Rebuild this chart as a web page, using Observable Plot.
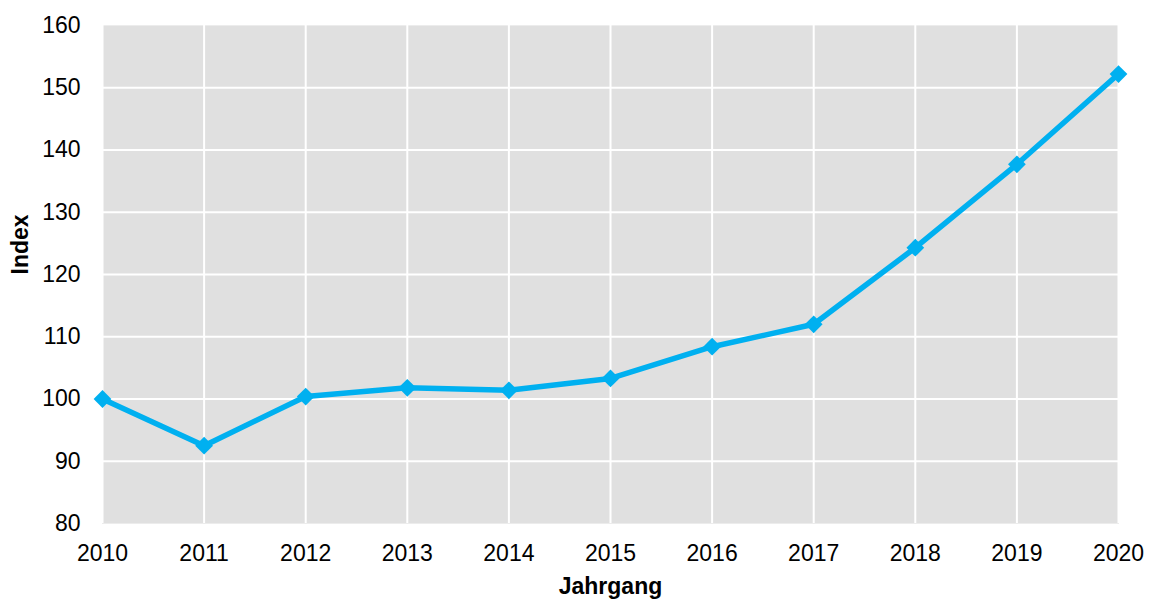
<!DOCTYPE html>
<html>
<head>
<meta charset="utf-8">
<script src="https://cdn.jsdelivr.net/npm/d3@7"></script>
<script src="https://cdn.jsdelivr.net/npm/@observablehq/plot@0.6"></script>
<style>
  body { margin: 0; background: #fff; }
  svg { font-family: "Liberation Sans", Arial, sans-serif; }
  svg text { font-size: 23px !important; fill: #000; }
</style>
</head>
<body>
<div id="chart"></div>
<script>
const years = [2010, 2011, 2012, 2013, 2014, 2015, 2016, 2017, 2018, 2019, 2020];
const index = [100, 92.5, 100.4, 101.8, 101.4, 103.3, 108.4, 112.0, 124.3, 137.7, 152.2];
const yTicks = [80, 90, 100, 110, 120, 130, 140, 150, 160];

const data = years.map((y, i) => ({ year: y, value: index[i] }));

const chart = Plot.plot({
  width: 1149,
  height: 602,
  marginLeft: 102,
  marginRight: 31,
  marginTop: 25,
  marginBottom: 79,
  style: { fontSize: "23px", fontFamily: "Liberation Sans, Arial, sans-serif", color: "#000" },
  x: { domain: [2010, 2020], label: null },
  y: { domain: [80, 160], label: null },
  marks: [
    Plot.frame({ fill: "#e0e0e0", stroke: "#ececec" }),
    Plot.ruleX(years, { stroke: "#fff", strokeWidth: 2, strokeOpacity: 1 }),
    Plot.ruleY(yTicks.slice(1, -1), { stroke: "#fff", strokeWidth: 2, strokeOpacity: 1 }),
    Plot.line(data, { x: "year", y: "value", stroke: "#00b0f0", strokeWidth: 5.5, strokeLinejoin: "round" }),
    Plot.dot(data, { x: "year", y: "value", symbol: "diamond2", r: 8, fill: "#00b0f0", stroke: "none" }),
    Plot.axisX({ ticks: years, tickFormat: "d", tickSize: 0, tickPadding: 21, label: null }),
    Plot.axisY({ ticks: yTicks, tickSize: 0, tickPadding: 22, label: null }),
    Plot.text(["Jahrgang"], { frameAnchor: "bottom", dy: 70, fontWeight: "bold" }),
    Plot.text(["Index"], { frameAnchor: "left", dx: -82, rotate: -90, fontWeight: "bold" })
  ]
});
document.getElementById("chart").appendChild(chart);
</script>
</body>
</html>
